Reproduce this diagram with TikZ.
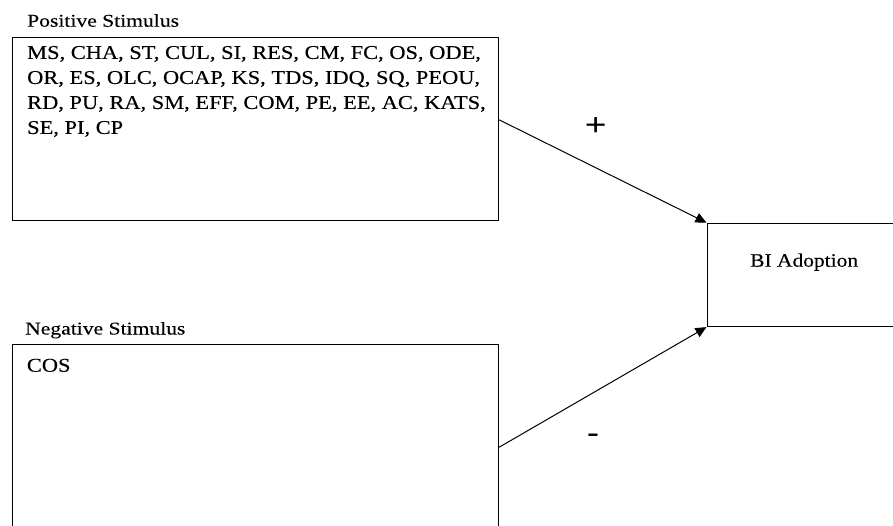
\documentclass[tikz,border=0pt]{standalone}
\usepackage{fontspec}
\setmainfont{Liberation Serif}[FakeStretch=1.15,FakeBold=0.3]
\newfontfamily\lblfont{Liberation Serif}[FakeStretch=1.2,FakeBold=0.2]
\newfontfamily\bifont{Liberation Serif}[FakeStretch=1.13,FakeBold=0.2]
\newfontfamily\signfont{Liberation Sans}[FakeStretch=1.2]
\usetikzlibrary{arrows.meta}
\begin{document}
\begin{tikzpicture}[x=1pt,y=-1pt,
  boxst/.style={draw,line width=1.1pt,rectangle,inner sep=0pt,anchor=north west},
  txtst/.style={inner sep=0pt,anchor=base west},
  arr/.style={line width=1pt,-{Triangle[length=11pt,width=10pt]}},
  sign/.style={inner sep=0pt,font=\signfont\fontsize{31}{31}\selectfont}]
\useasboundingbox (0,0) rectangle (893,525);
\clip (0,0) rectangle (893,525);
\fill[white] (0,0) rectangle (893,525);
% boxes
\node[boxst,minimum width=486.5pt,minimum height=183.5pt] (pos) at (11.5,36.5) {};
\node[boxst,minimum width=486.5pt,minimum height=205.4pt] (neg) at (11.5,344) {};
\node[boxst,minimum width=220pt,minimum height=103.3pt] (bi) at (706.5,222.7) {};
% labels
\node[txtst,font=\lblfont\fontsize{18}{18}\selectfont] (poslbl) at (27,26.7) {Positive Stimulus};
\node[txtst,font=\lblfont\fontsize{18}{18}\selectfont] (neglbl) at (25,334.5) {Negative Stimulus};
\node[inner sep=0pt,anchor=north west,align=left,font=\fontsize{19.5}{25}\selectfont] (postxt) at (27,45.8)
 {MS, CHA, ST, CUL, SI, RES, CM, FC, OS, ODE,\\
  OR, ES, OLC, OCAP, KS, TDS, IDQ, SQ, PEOU,\\
  RD, PU, RA, SM, EFF, COM, PE, EE, AC, KATS,\\
  SE, PI, CP};
\node[txtst,font=\fontsize{19.5}{25}\selectfont] (negtxt) at (26.7,371.7) {COS};
\node[txtst,font=\bifont\fontsize{19}{19}\selectfont] (bitxt) at (750,266.7) {BI Adoption};
% signs
\node[sign] (plus) at (595.7,127) {+};
\node[sign] (minus) at (593,438.5) {-};
% connectors
\draw[arr] ([yshift=9pt]pos.east) -- (bi.north west);
\draw[arr] (neg.east) -- (bi.south west);
\end{tikzpicture}
\end{document}
